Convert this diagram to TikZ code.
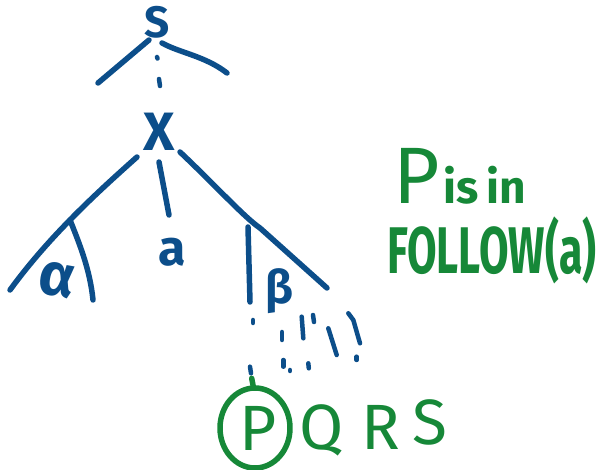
\documentclass[tikz,border=0pt]{standalone}
\usepackage{fontspec}
\setmainfont{Fira Sans}
\usepackage{graphicx}
\definecolor{inkblue}{RGB}{12,78,138}
\definecolor{inkgreen}{RGB}{22,136,56}
\newcommand{\fsz}[1]{\fontsize{#1}{#1}\selectfont}
\begin{document}
\begin{tikzpicture}[x=1pt,y=-1pt,
  bstroke/.style={draw=inkblue,line width=5.5pt,line cap=round,line join=round},
  gstroke/.style={draw=inkgreen,line width=5.5pt,line cap=round,line join=round},
  bdash/.style={draw=inkblue,line width=4.5pt,line cap=round},
  bletter/.style={text=inkblue,inner sep=0pt},
  gletter/.style={text=inkgreen,inner sep=0pt}]
\useasboundingbox (0,0) rectangle (603,470);

% tree letters
\node[bletter,font=\fsz{44}\bfseries] (S) at (157,22) {S};
\node[bletter,font=\fsz{54}\bfseries] (X) at (159,132) {X};
\node[bletter,font=\fsz{60}\bfseries,rotate=-10] (alpha) at (57,280) {α};
\node[bletter,font=\fsz{50}\bfseries] (a) at (172,252) {a};
\node[bletter,font=\fsz{46}\bfseries] (beta) at (279,291) {β};

% edge endpoints
\coordinate (sl1) at (149,40); \coordinate (sl2) at (98,83);
\coordinate (sr1) at (162,43); \coordinate (sr2) at (227,73);
\coordinate (xl1) at (137,157); \coordinate (xl2) at (10,290);
\coordinate (xm1) at (159,162); \coordinate (xm2) at (169,215);
\coordinate (xr1) at (180,152); \coordinate (xr2) at (327,288);
\coordinate (al1) at (70,220); \coordinate (al2) at (93,300);
\coordinate (bl1) at (248,227); \coordinate (bl2) at (250,302);

% S subtree
\draw[bstroke] (sl1) -- (sl2);
\draw[bstroke] (sr1) .. controls (180,53) and (205,56) .. (sr2);
\draw[bdash] (157,57) -- (157.5,58.5);
\draw[bdash] (159,79) -- (160,86);

% X subtree
\draw[bstroke] (xl1) .. controls (100,190) and (50,235) .. (xl2);
\draw[bstroke] (xm1) -- (xm2);
\draw[bstroke] (xr1) .. controls (215,185) and (245,218) .. (260,228) -- (xr2);
\draw[bstroke] (al1) .. controls (80,245) and (90,270) .. (al2);
\draw[bstroke] (bl1) -- (bl2);

% dashed derivation below beta
\draw[bdash] (253,320) -- (253,323);
\draw[bdash] (282,332) -- (282,340);
\draw[bdash] (301.7,316.7) -- (303.3,338.3);
\draw[bdash] (313,315) -- (314,322);
\draw[bdash] (328.3,328.3) -- (336.7,355);
\draw[bdash] (348.3,313.3) -- (353.3,320) -- (360,343.3);
\draw[bdash] (356.7,356.7) -- (356.7,360);
\draw[bdash] (283.3,360) -- (283.3,366.7);
\draw[bdash] (290,370) -- (290,371);
\draw[bdash] (308.3,363.3) -- (308.8,368.3);
\draw[bdash] (250,366.7) -- (251,373.3);

% leaves
\node[gletter,font=\fsz{64}] (P) at (258,428) {P};
\node[gletter,font=\fsz{64}] (Q) at (322,430) {Q};
\node[gletter,font=\fsz{64}] (R) at (381,427) {R};
\node[gletter,font=\fsz{64}] (S2) at (430,422) {S};
\draw[gstroke] (255,428) ellipse [x radius=35, y radius=40];
\draw[gstroke] (251.7,378.3) -- (253.3,386.7);

% note
\node[gletter,anchor=base west] (note1) at (393,204)
  {{\fsz{80}P}\hspace{4pt}{\fsz{46}\bfseries is\hspace{8pt}in}};
\node[gletter,anchor=base west] (note2) at (387,274)
  {\scalebox{0.65}[1]{\fsz{66}\bfseries FOLLOW(a)}};
\end{tikzpicture}
\end{document}
